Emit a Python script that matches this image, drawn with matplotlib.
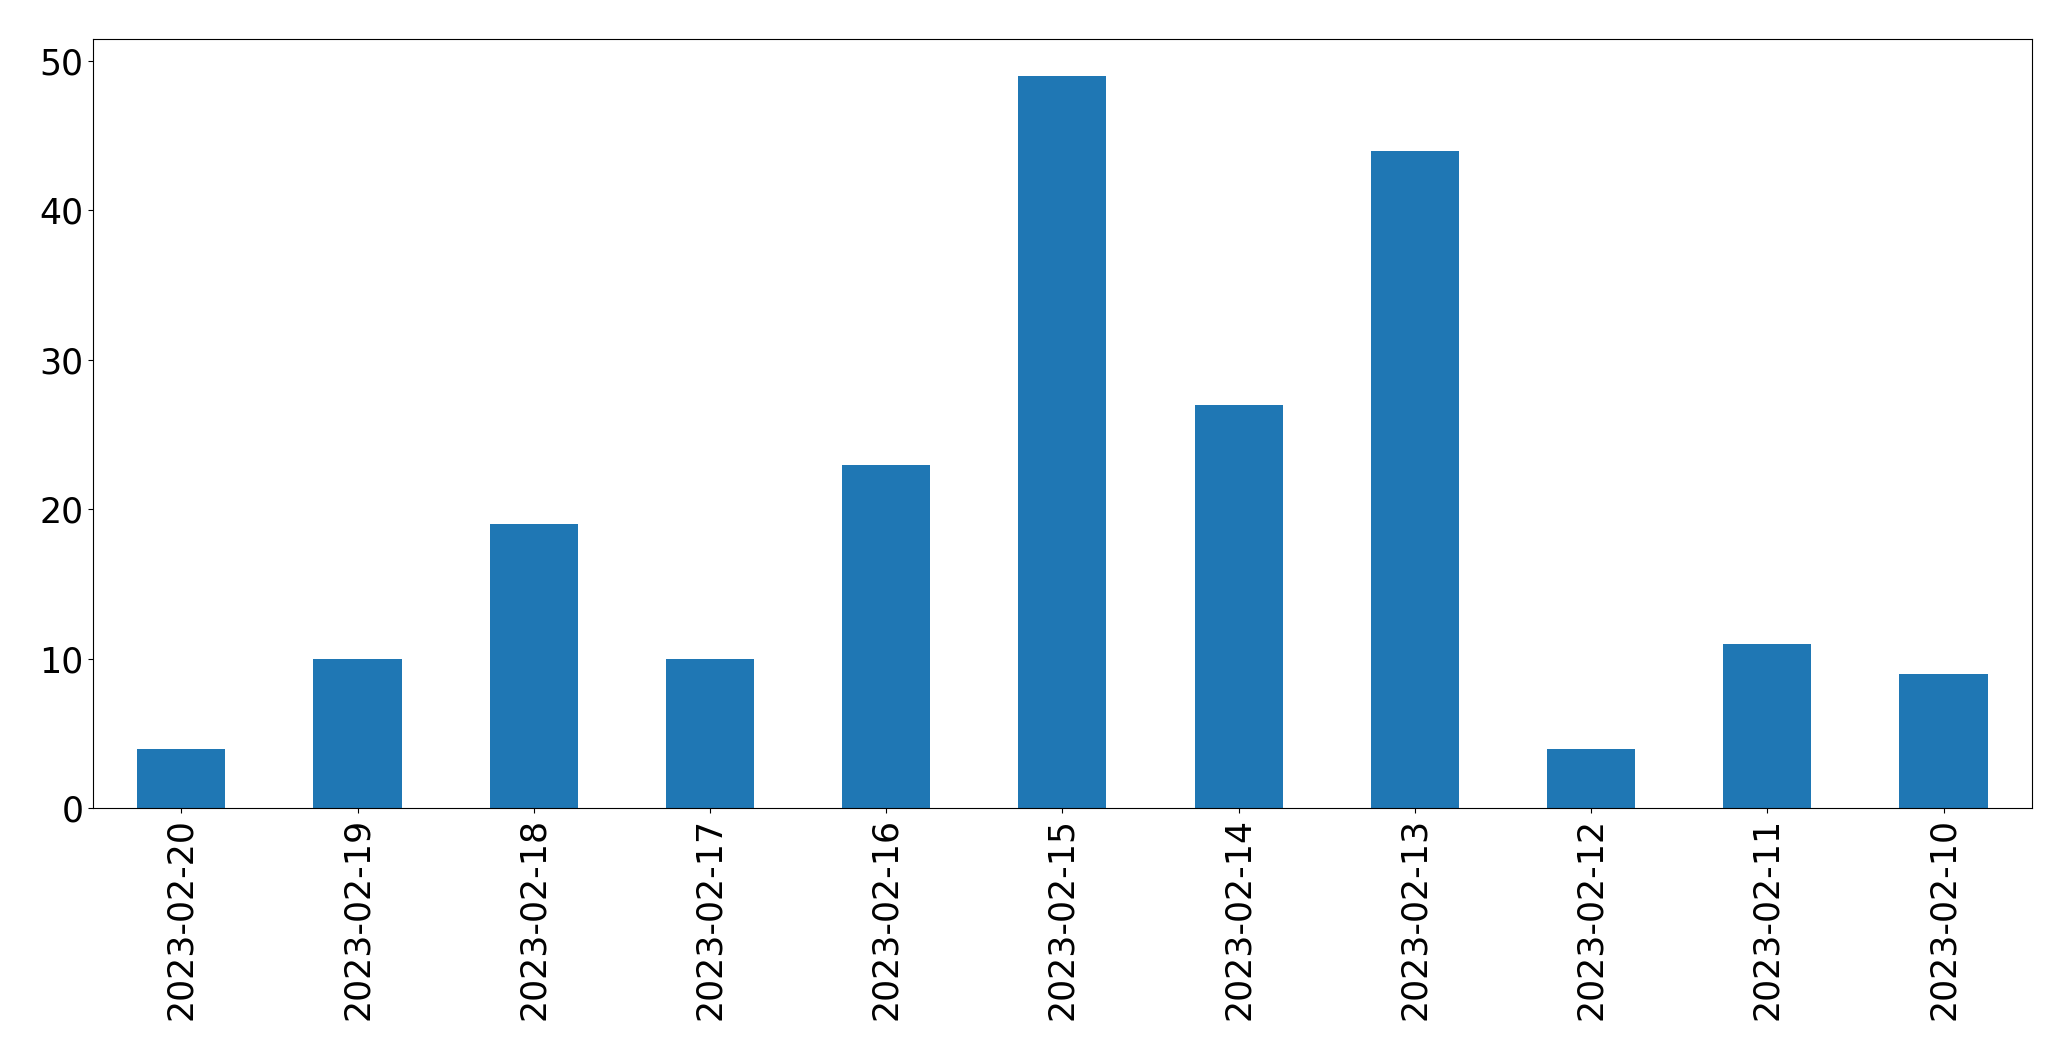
import matplotlib
matplotlib.use('Agg')
import matplotlib.pyplot as plt
import pandas as pd

# dates shown on the x axis (newest first, as in the source)
dates = ['2023-02-20', '2023-02-19', '2023-02-18', '2023-02-17', '2023-02-16',
         '2023-02-15', '2023-02-14', '2023-02-13', '2023-02-12', '2023-02-11',
         '2023-02-10']
# counts per day
counts = [4, 10, 19, 10, 23, 49, 27, 44, 4, 11, 9]

s = pd.Series(counts, index=dates)

fig, ax = plt.subplots(figsize=(20.71, 10.61), dpi=100)
s.plot(kind='bar', ax=ax, color='#1f77b4', width=0.5)
ax.tick_params(axis='both', labelsize=25)
ax.set_yticks([0, 10, 20, 30, 40, 50])
fig.subplots_adjust(left=0.045, right=0.981, top=0.963, bottom=0.238)

fig.savefig('out.png', dpi=100)
